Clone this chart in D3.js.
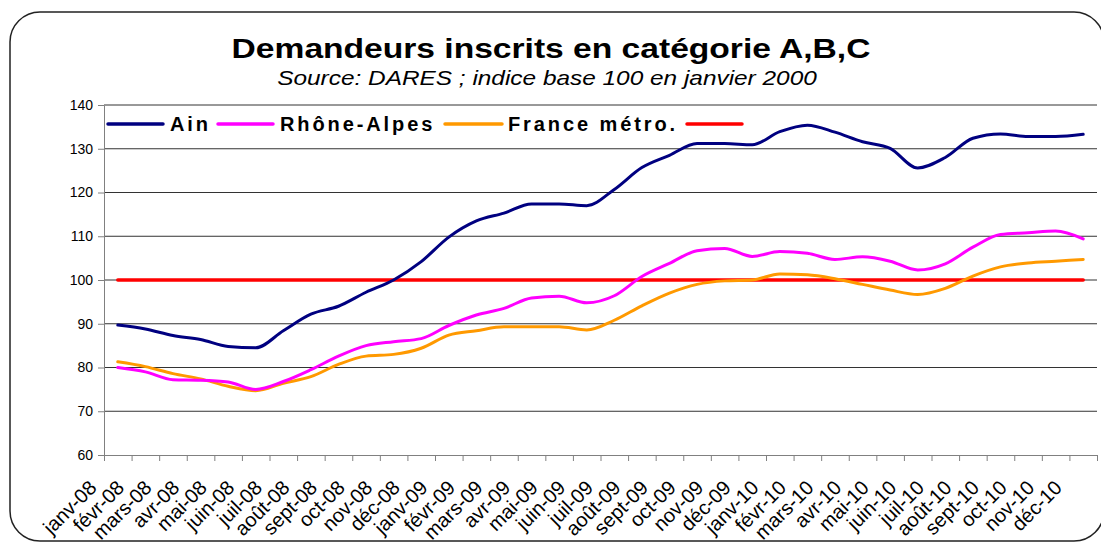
<!DOCTYPE html>
<html>
<head>
<meta charset="utf-8">
<script src="https://cdn.jsdelivr.net/npm/d3@7/dist/d3.min.js"></script>
<style>
  html, body { margin: 0; padding: 0; background: #fff; }
  svg { display: block; font-family: Arial, "Liberation Sans", sans-serif; }
</style>
</head>
<body>
<svg id="chart" width="1101" height="544"></svg>
<script>
// ---- Data ----
const months = ["janv-08","févr-08","mars-08","avr-08","mai-08","juin-08","juil-08","août-08","sept-08","oct-08","nov-08","déc-08",
                "janv-09","févr-09","mars-09","avr-09","mai-09","juin-09","juil-09","août-09","sept-09","oct-09","nov-09","déc-09",
                "janv-10","févr-10","mars-10","avr-10","mai-10","juin-10","juil-10","août-10","sept-10","oct-10","nov-10","déc-10"];

const ain = [89.7, 88.8, 87.3, 86.4, 84.8, 84.5, 88.4, 92.2, 94.0, 97.2, 100.0, 104.2,
             109.8, 113.5, 115.3, 117.4, 117.4, 117.0, 120.7, 125.7, 128.5, 131.2, 131.2, 130.9,
             133.9, 135.4, 133.8, 131.6, 130.1, 125.6, 128.0, 132.4, 133.4, 132.8, 132.8, 133.3];

const rhoneAlpes = [80.0, 79.0, 77.2, 77.1, 76.7, 75.0, 76.8, 79.5, 82.6, 85.0, 85.9, 86.6,
                    89.6, 92.0, 93.5, 95.9, 96.3, 94.8, 96.4, 100.8, 103.8, 106.7, 107.2, 105.4,
                    106.5, 106.1, 104.7, 105.3, 104.3, 102.3, 103.7, 107.5, 110.4, 110.8, 111.2, 109.4];

const franceMetro = [81.3, 80.2, 78.6, 77.4, 75.7, 74.7, 76.4, 77.9, 80.7, 82.6, 83.0, 84.4,
                     87.4, 88.4, 89.3, 89.3, 89.3, 88.6, 90.8, 94.1, 97.0, 99.0, 99.8, 100.0,
                     101.4, 101.2, 100.3, 99.0, 97.7, 96.7, 98.1, 100.9, 103.0, 103.9, 104.3, 104.7];

const base100 = [100, 100, 100, 100, 100, 100, 100, 100, 100, 100, 100, 100,
                 100, 100, 100, 100, 100, 100, 100, 100, 100, 100, 100, 100,
                 100, 100, 100, 100, 100, 100, 100, 100, 100, 100, 100, 100];

const yTicks = [60, 70, 80, 90, 100, 110, 120, 130, 140];

const seriesNames = ["Ain", "Rhône-Alpes", "France métro.", ""];
const seriesColors = ["#000080", "#FF00FF", "#FF9900", "#FF0000"];

const titleText = "Demandeurs inscrits en catégorie A,B,C";
const subtitleText = "Source: DARES ; indice base 100 en janvier 2000";

// ---- Layout ----
const svg = d3.select("#chart");
const plotLeft = 104, plotRight = 1097, plotTop = 105, plotBottom = 455;

// outer frame
svg.append("rect")
  .attr("x", 10).attr("y", 12)
  .attr("width", 1094).attr("height", 529)
  .attr("rx", 30).attr("ry", 30)
  .attr("fill", "#fff")
  .attr("stroke", "#222").attr("stroke-width", 1.5);

// title (slightly stretched horizontally like the original)
svg.append("text")
  .attr("transform", "translate(551,58) scale(1.2,1)")
  .attr("text-anchor", "middle")
  .attr("font-size", 28).attr("font-weight", "bold")
  .attr("fill", "#000")
  .text(titleText);

svg.append("text")
  .attr("transform", "translate(547,85) scale(1.22,1)")
  .attr("text-anchor", "middle")
  .attr("font-size", 20).attr("font-style", "italic")
  .attr("fill", "#000")
  .text(subtitleText);

// scales
const x = d3.scaleBand().domain(months).range([plotLeft, plotRight]).padding(0);
const xb = d3.scaleLinear().domain([0, months.length]).range([plotLeft, plotRight]);
const y = d3.scaleLinear().domain([60, 140]).range([plotBottom, plotTop]);
const cx = m => x(m) + x.bandwidth() / 2;

// gridlines
svg.append("g")
  .selectAll("line")
  .data(yTicks.filter(v => v > 60))
  .join("line")
  .attr("x1", plotLeft).attr("x2", plotRight)
  .attr("y1", d => y(d)).attr("y2", d => y(d))
  .attr("stroke", "#333").attr("stroke-width", 1);

// y axis
const yAxis = svg.append("g")
  .attr("transform", `translate(${plotLeft},0)`)
  .call(d3.axisLeft(y).tickValues(yTicks).tickSize(6).tickSizeOuter(0).tickPadding(5));
yAxis.select(".domain").attr("stroke", "#808080");
yAxis.selectAll(".tick line").attr("stroke", "#808080");
yAxis.selectAll(".tick text")
  .attr("font-size", 14).attr("font-family", "Arial, 'Liberation Sans', sans-serif").attr("fill", "#000");

// x axis: tick marks at category boundaries
const xTickAxis = svg.append("g")
  .attr("transform", `translate(0,${plotBottom})`)
  .call(d3.axisBottom(xb).tickValues(d3.range(months.length + 1)).tickSize(6).tickSizeOuter(0).tickFormat(""));
xTickAxis.select(".domain").attr("stroke", "#808080");
xTickAxis.selectAll(".tick line").attr("stroke", "#808080");

// x labels at category centers, rotated
const xLabelAxis = svg.append("g")
  .attr("transform", `translate(0,${plotBottom})`)
  .call(d3.axisBottom(x).tickSize(0).tickSizeOuter(0));
xLabelAxis.select(".domain").remove();
xLabelAxis.selectAll(".tick text")
  .attr("font-size", 20)
  .attr("font-family", "Arial, 'Liberation Sans', sans-serif")
  .attr("fill", "#000")
  .attr("text-anchor", "end")
  .attr("dy", 0)
  .attr("y", 0)
  .attr("transform", "translate(-20,34) rotate(-45)");

// lines
const lineGen = d3.line()
  .x((d, i) => cx(months[i]))
  .y(d => y(d))
  .curve(d3.curveMonotoneX);

const allSeries = [ain, rhoneAlpes, franceMetro, base100];
const drawOrder = [3, 2, 1, 0];
drawOrder.forEach(k => {
  svg.append("path")
    .datum(allSeries[k])
    .attr("fill", "none")
    .attr("stroke", seriesColors[k])
    .attr("stroke-width", k === 3 ? 3.5 : 3)
    .attr("stroke-linejoin", "round")
    .attr("stroke-linecap", "round")
    .attr("d", lineGen);
});

// legend
const legendItems = [
  { x1: 108, x2: 163, tx: 170 },
  { x1: 218, x2: 273, tx: 280 },
  { x1: 445, x2: 502, tx: 508 },
  { x1: 687, x2: 742, tx: 750 }
];
const legendY = 124;
legendItems.forEach((it, i) => {
  svg.append("line")
    .attr("x1", it.x1).attr("x2", it.x2)
    .attr("y1", legendY).attr("y2", legendY)
    .attr("stroke", seriesColors[i]).attr("stroke-width", 3.5)
    .attr("stroke-linecap", "round");
  if (seriesNames[i]) {
    svg.append("text")
      .attr("x", it.tx).attr("y", legendY + 7)
      .attr("font-size", 20).attr("font-weight", "bold")
      .attr("letter-spacing", 2.9)
      .attr("fill", "#000")
      .text(seriesNames[i]);
  }
});
</script>
</body>
</html>
